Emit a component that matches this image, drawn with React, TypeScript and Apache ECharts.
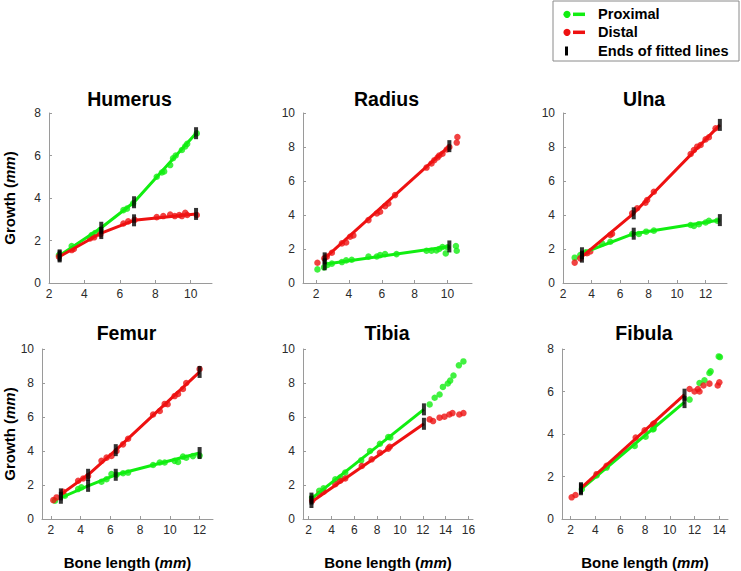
import React, { useEffect, useRef } from "react";
import * as echarts from "echarts";

type P = [number, number][];

// ---------- Data ----------
const humerusProximal: P = [[2.56,1.32],[3.28,1.74],[4.41,2.26],[4.6,2.35],[4.9,2.5],[6.2,3.43],[6.4,3.5],[6.75,3.75],[8.08,5.0],[8.37,5.2],[8.5,5.25],[8.84,5.55],[9.0,5.87],[9.15,6.0],[9.5,6.26],[9.69,6.43],[9.8,6.55],[10.34,7.04]];
const humerusDistal: P = [[2.56,1.24],[3.28,1.55],[3.4,1.6],[4.32,2.1],[4.55,2.15],[4.9,2.3],[6.2,2.8],[6.47,2.9],[6.83,2.97],[8.08,3.1],[8.45,3.15],[8.84,3.22],[9.1,3.15],[9.35,3.2],[9.5,3.15],[9.69,3.3],[9.8,3.2],[10.34,3.2]];
const humerusProximalFit: P = [[2.6,1.3],[4.95,2.6],[6.8,3.8],[10.3,7.05]];
const humerusDistalFit: P = [[2.6,1.25],[4.95,2.35],[6.8,2.95],[10.3,3.25]];

const radiusProximal: P = [[2.08,0.8],[2.48,0.92],[2.69,1.06],[2.96,1.14],[3.57,1.23],[3.83,1.33],[4.17,1.37],[5.19,1.55],[5.7,1.56],[5.9,1.64],[6.2,1.7],[6.9,1.7],[8.73,1.9],[9.03,1.9],[9.33,1.92],[9.5,2.0],[9.7,2.12],[9.9,1.74],[10.0,2.1],[10.52,2.18],[10.57,1.9]];
const radiusDistal: P = [[2.08,1.19],[2.5,1.45],[2.65,1.55],[2.96,1.78],[3.57,2.33],[3.83,2.38],[4.07,2.72],[4.27,2.8],[5.19,3.7],[5.7,4.09],[5.9,4.19],[6.2,4.52],[6.4,4.68],[6.81,5.17],[8.73,6.79],[9.03,7.03],[9.2,7.22],[9.4,7.38],[9.5,7.5],[9.7,7.6],[9.96,7.85],[10.12,8.0],[10.57,8.26],[10.61,8.59]];
const radiusProximalFit: P = [[2.52,1.1],[10.12,2.15]];
const radiusDistalFit: P = [[2.52,1.45],[10.12,8.05]];

const ulnaProximal: P = [[2.82,1.49],[3.21,1.64],[3.6,1.8],[4.74,2.33],[5.32,2.43],[6.85,2.88],[7.32,2.88],[7.83,3.02],[8.37,3.08],[10.95,3.41],[11.18,3.35],[11.53,3.46],[12.0,3.56],[12.23,3.66],[12.82,3.66]];
const ulnaDistal: P = [[2.82,1.2],[3.21,1.45],[3.68,1.75],[3.91,1.85],[5.32,2.82],[5.44,2.9],[6.85,4.1],[7.2,4.4],[7.78,4.72],[7.9,4.88],[8.37,5.37],[10.95,7.59],[11.18,7.82],[11.41,8.02],[11.65,8.12],[12.0,8.45],[12.23,8.57],[12.7,9.1]];
const ulnaProximalFit: P = [[3.33,1.75],[6.96,2.9],[13.0,3.7]];
const ulnaDistalFit: P = [[3.33,1.55],[6.96,4.1],[13.0,9.3]];

const femurProximal: P = [[2.27,1.08],[2.94,1.37],[3.83,1.76],[4.05,1.86],[5.4,2.19],[5.74,2.34],[6.07,2.64],[6.41,2.6],[6.85,2.69],[7.19,2.73],[8.87,3.18],[9.32,3.32],[9.65,3.32],[10.32,3.42],[10.55,3.36],[10.88,3.67],[11.1,3.6],[11.55,3.7],[12.0,3.73]];
const femurDistal: P = [[2.16,1.11],[2.38,1.27],[2.83,1.6],[3.83,2.25],[4.17,2.38],[4.5,2.53],[5.4,3.42],[5.74,3.61],[6.07,3.71],[6.41,4.0],[6.85,4.39],[7.19,4.72],[8.87,6.15],[9.32,6.35],[9.65,6.77],[9.85,6.75],[10.32,7.23],[10.55,7.36],[10.88,7.65],[11.1,8.0],[12.0,8.82]];
const femurProximalFit: P = [[2.67,1.25],[4.5,1.95],[6.36,2.6],[12.0,3.88]];
const femurDistalFit: P = [[2.67,1.45],[4.5,2.6],[6.36,4.05],[12.0,8.65]];

const tibiaProximal: P = [[2.3,1.27],[2.92,1.66],[3.3,1.8],[4.33,2.34],[4.76,2.44],[5.2,2.73],[6.6,3.45],[7.37,4.0],[8.24,4.43],[8.97,4.82],[9.15,4.8],[12.6,6.74],[13.04,7.13],[13.47,7.32],[13.76,7.77],[14.19,7.97],[14.4,8.14],[14.69,8.44],[15.16,9.04],[15.56,9.27]];
const tibiaDistal: P = [[2.3,1.08],[2.92,1.46],[3.3,1.6],[4.33,2.05],[4.76,2.25],[5.2,2.38],[6.65,3.12],[7.52,3.51],[8.24,3.9],[8.97,4.14],[9.1,4.25],[12.6,5.86],[12.9,5.76],[13.47,5.96],[13.9,6.02],[14.33,6.15],[14.6,6.23],[15.2,6.15],[15.56,6.23]];
const tibiaProximalFit: P = [[2.24,1.2],[12.1,6.45]];
const tibiaDistalFit: P = [[2.24,1.0],[12.1,5.6]];

const fibulaProximal: P = [[2.9,1.4],[4.09,2.05],[4.9,2.42],[7.17,3.44],[8.05,3.87],[8.64,4.21],[8.7,4.25],[11.6,5.62],[12.4,6.4],[12.8,6.53],[13.2,6.87],[13.3,6.95],[13.95,7.65],[14.05,7.62]];
const fibulaDistal: P = [[2.08,1.02],[2.39,1.13],[4.09,2.11],[4.9,2.5],[7.25,3.83],[7.97,4.17],[8.64,4.45],[8.75,4.5],[11.6,6.12],[12.0,6.0],[12.27,6.12],[12.4,6.0],[12.72,6.28],[13.2,6.37],[13.87,6.28],[14.0,6.43]];
const fibulaProximalFit: P = [[2.83,1.4],[11.19,5.5]];
const fibulaDistalFit: P = [[2.83,1.45],[11.19,5.85]];

const boneNames = ["Humerus", "Radius", "Ulna", "Femur", "Tibia", "Fibula"];
const xTicksA = [2, 4, 6, 8, 10];
const xTicksB = [2, 4, 6, 8, 10, 12];
const xTicksC = [2, 4, 6, 8, 10, 12, 14, 16];
const xTicksD = [2, 4, 6, 8, 10, 12, 14];
const legendLabels = ["Proximal", "Distal", "Ends of fitted lines"];

// ---------- Layout / style ----------
const GREEN = "#11ee11";
const RED = "#ee1111";
const FONT = "'Liberation Sans', Arial, Helvetica, sans-serif";

const panels = [
  { name: boneNames[0], prox: humerusProximal, dist: humerusDistal, pf: humerusProximalFit, df: humerusDistalFit, left: 49, top: 113, width: 163, height: 170, xmin: 2, xmax: 11.2, ymax: 8, ticks: xTicksA },
  { name: boneNames[1], prox: radiusProximal, dist: radiusDistal, pf: radiusProximalFit, df: radiusDistalFit, left: 303, top: 113, width: 169, height: 170, xmin: 1.2, xmax: 11.5, ymax: 10, ticks: xTicksA },
  { name: boneNames[2], prox: ulnaProximal, dist: ulnaDistal, pf: ulnaProximalFit, df: ulnaDistalFit, left: 563, top: 113, width: 164, height: 170, xmin: 2, xmax: 13.5, ymax: 10, ticks: xTicksB },
  { name: boneNames[3], prox: femurProximal, dist: femurDistal, pf: femurProximalFit, df: femurDistalFit, left: 42, top: 349, width: 171, height: 171, xmin: 1.4, xmax: 12.9, ymax: 10, ticks: xTicksB },
  { name: boneNames[4], prox: tibiaProximal, dist: tibiaDistal, pf: tibiaProximalFit, df: tibiaDistalFit, left: 303, top: 349, width: 170, height: 171, xmin: 1.5, xmax: 16.4, ymax: 10, ticks: xTicksC },
  { name: boneNames[5], prox: fibulaProximal, dist: fibulaDistal, pf: fibulaProximalFit, df: fibulaDistalFit, left: 562, top: 349, width: 166, height: 171, xmin: 1.3, xmax: 14.7, ymax: 8, ticks: xTicksD },
];

const nameRich = {
  n: { fontFamily: FONT, fontWeight: "bold" as const, fontSize: 15, color: "#000" },
  i: { fontFamily: FONT, fontWeight: "bold" as const, fontStyle: "italic" as const, fontSize: 15, color: "#000" },
};

function buildOption() {
  const grid: any[] = [];
  const xAxis: any[] = [];
  const yAxis: any[] = [];
  const series: any[] = [];
  const graphic: any[] = [];

  panels.forEach((p, i) => {
    grid.push({ left: p.left, top: p.top, width: p.width, height: p.height, containLabel: false });
    const bottomRow = i >= 3;
    const leftCol = i % 3 === 0;
    xAxis.push({
      type: "value",
      gridIndex: i,
      min: p.xmin,
      max: p.xmax,
      axisLine: { show: true, onZero: false, lineStyle: { color: "#9a9a9a", width: 1 } },
      axisTick: { show: true, inside: true, length: 3, customValues: p.ticks, lineStyle: { color: "#9a9a9a" } },
      axisLabel: { customValues: p.ticks, color: "#2a2a2a", fontSize: 12, fontFamily: FONT, margin: 5 },
      splitLine: { show: false },
      name: bottomRow ? "{n|Bone length (}{i|mm}{n|)}" : "",
      nameLocation: "middle",
      nameGap: 36,
      nameTextStyle: { rich: nameRich },
    });
    yAxis.push({
      type: "value",
      gridIndex: i,
      min: 0,
      max: p.ymax,
      interval: 2,
      axisLine: { show: true, onZero: false, lineStyle: { color: "#9a9a9a", width: 1 } },
      axisTick: { show: true, inside: true, length: 3, lineStyle: { color: "#9a9a9a" } },
      axisLabel: { color: "#2a2a2a", fontSize: 12, fontFamily: FONT, margin: 8 },
      splitLine: { show: false },
      name: leftCol ? "{n|Growth (}{i|mm}{n|)}" : "",
      nameLocation: "middle",
      nameGap: p.left - 17,
      nameTextStyle: { rich: nameRich },
    });

    series.push({
      type: "scatter", xAxisIndex: i, yAxisIndex: i, data: p.prox,
      symbol: "circle", symbolSize: 6.5, itemStyle: { color: GREEN }, z: 2,
    });
    series.push({
      type: "scatter", xAxisIndex: i, yAxisIndex: i, data: p.dist,
      symbol: "circle", symbolSize: 6.5, itemStyle: { color: RED }, z: 2,
    });
    series.push({
      type: "line", xAxisIndex: i, yAxisIndex: i, data: p.pf,
      showSymbol: false, symbol: "none", lineStyle: { color: GREEN, width: 3 }, z: 3,
    });
    series.push({
      type: "line", xAxisIndex: i, yAxisIndex: i, data: p.df,
      showSymbol: false, symbol: "none", lineStyle: { color: RED, width: 3 }, z: 3,
    });
    series.push({
      type: "scatter", xAxisIndex: i, yAxisIndex: i, data: [...p.pf, ...p.df],
      symbol: "rect", symbolSize: [4, 12], itemStyle: { color: "#000" }, z: 4,
    });

    graphic.push({
      type: "text",
      x: p.left + p.width / 2 - 1,
      y: bottomRow ? 333 : 99,
      style: {
        text: p.name,
        fill: "#000",
        font: `bold 19.5px ${FONT}`,
        align: "center",
        verticalAlign: "middle",
      },
    });
  });

  // Legend box
  const lx = 553, ly = 1;
  graphic.push({
    type: "rect",
    shape: { x: lx, y: ly, width: 186, height: 60 },
    style: { fill: "#fff", stroke: "#8a8a8a", lineWidth: 1 },
    z: 10,
  });
  const rows = [14.3, 32.3, 51];
  const cols = [GREEN, RED];
  cols.forEach((c, k) => {
    graphic.push({ type: "circle", shape: { cx: 567, cy: rows[k], r: 3.6 }, style: { fill: c }, z: 11 });
    graphic.push({ type: "line", shape: { x1: 573, y1: rows[k], x2: 585, y2: rows[k] }, style: { stroke: c, lineWidth: 3.5 }, z: 11 });
  });
  graphic.push({ type: "rect", shape: { x: 565, y: rows[2] - 4.5, width: 3, height: 9 }, style: { fill: "#000" }, z: 11 });
  legendLabels.forEach((t, k) => {
    graphic.push({
      type: "text", x: 598, y: rows[k],
      style: { text: t, fill: "#000", font: `bold 14.6px ${FONT}`, align: "left", verticalAlign: "middle" },
      z: 11,
    });
  });

  return { animation: false, backgroundColor: "#fff", grid, xAxis, yAxis, series, graphic };
}

export default function App() {
  const ref = useRef<HTMLDivElement>(null);
  useEffect(() => {
    if (!ref.current) return;
    const chart = echarts.init(ref.current, undefined, { renderer: "svg" });
    chart.setOption(buildOption() as any);
    return () => chart.dispose();
  }, []);
  return (
    <div
      ref={ref}
      style={{ position: "absolute", left: 0, top: 0, width: 741, height: 571 }}
    />
  );
}
